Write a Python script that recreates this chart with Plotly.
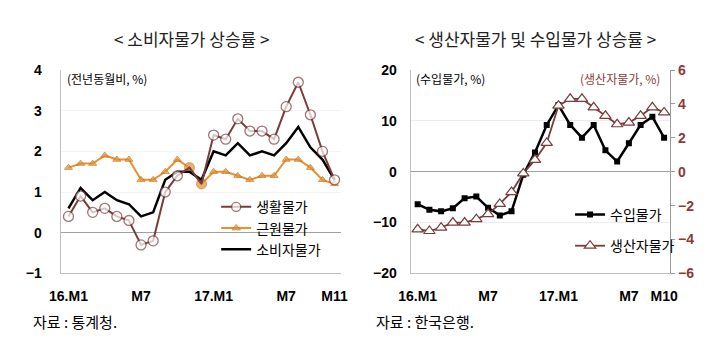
import plotly.graph_objects as go

# ---- data: left chart (16.M1 ~ 17.M11) ----
months_left = list(range(23))
living = [0.4, 0.9, 0.5, 0.6, 0.4, 0.3, -0.3, -0.2, 1.0, 1.4, 1.6, 1.2,
          2.4, 2.3, 2.8, 2.5, 2.5, 2.3, 3.1, 3.7, 2.9, 2.0, 1.3]
core = [1.6, 1.7, 1.7, 1.9, 1.8, 1.8, 1.3, 1.3, 1.5, 1.8, 1.6, 1.2,
        1.5, 1.5, 1.4, 1.3, 1.4, 1.4, 1.8, 1.8, 1.6, 1.3, 1.2]
cpi = [0.6, 1.1, 0.8, 1.0, 0.8, 0.7, 0.4, 0.5, 1.3, 1.5, 1.5, 1.3,
       2.0, 1.9, 2.2, 1.9, 2.0, 1.9, 2.2, 2.6, 2.1, 1.8, 1.3]
left_tickvals = [0, 6, 12, 18, 22]
left_ticktext = ["16.M1", "M7", "17.M1", "M7", "M11"]

# ---- data: right chart (16.M1 ~ 17.M10) ----
months_right = list(range(22))
import_p = [-6.4, -7.5, -7.8, -7.2, -5.2, -4.9, -7.1, -8.6, -7.8, -0.6, 3.8, 9.2,
            13.1, 9.2, 6.7, 9.2, 4.2, 2.0, 5.6, 9.2, 10.8, 6.7]
ppi = [-3.4, -3.5, -3.3, -3.0, -3.0, -2.8, -2.5, -1.9, -1.2, -0.1, 0.7, 1.7,
       3.9, 4.3, 4.3, 3.8, 3.3, 2.8, 2.9, 3.3, 3.8, 3.5]
right_tickvals = [0, 6, 12, 18, 21]
right_ticktext = ["16.M1", "M7", "17.M1", "M7", "M10"]

MAROON = "#7a3b3b"
ORANGE = "#e8912d"
KFONT = "Noto Sans CJK KR"
NFONT = "Liberation Sans"

fig = go.Figure()

# left traces
fig.add_trace(go.Scatter(
    x=months_left, y=core, name="근원물가", mode="lines+markers",
    line=dict(color=ORANGE, width=2),
    marker=dict(symbol=["triangle-up"] * 10 + ["circle", "circle"] + ["triangle-up"] * 11,
                size=[7] * 10 + [10, 10] + [7] * 11, color=ORANGE,
                line=dict(color="#c07020", width=1)),
    xaxis="x", yaxis="y", legend="legend", legendrank=2))
fig.add_trace(go.Scatter(
    x=months_left, y=cpi, name="소비자물가", mode="lines",
    line=dict(color="black", width=2.5),
    xaxis="x", yaxis="y", legend="legend", legendrank=3))
fig.add_trace(go.Scatter(
    x=months_left, y=living, name="생활물가", mode="lines+markers",
    line=dict(color=MAROON, width=2),
    marker=dict(symbol="circle", size=[10] * 10 + [0, 0] + [10] * 11, color="white",
                line=dict(color=MAROON, width=1.3)),
    xaxis="x", yaxis="y", legend="legend", legendrank=1))

# right traces
fig.add_trace(go.Scatter(
    x=months_right, y=import_p, name="수입물가", mode="lines+markers",
    line=dict(color="black", width=2.5),
    marker=dict(symbol="square", size=6, color="black"),
    xaxis="x2", yaxis="y2", legend="legend2", legendgroup="a"))
fig.add_trace(go.Scatter(
    x=months_right, y=ppi, name="생산자물가", mode="lines+markers",
    line=dict(color=MAROON, width=1.8),
    marker=dict(symbol="triangle-up", size=10, color="white",
                line=dict(color=MAROON, width=1.2)),
    xaxis="x2", yaxis="y3", legend="legend2", legendgroup="b"))

W, H = 720, 352
def px(v):
    return v / W
def py(v):
    return (H - v) / H

tickfont = dict(family=NFONT, size=14, color="black", weight="bold")

fig.update_layout(
    width=W, height=H,
    margin=dict(l=0, r=0, t=0, b=0),
    paper_bgcolor="white", plot_bgcolor="white",
    font=dict(family=KFONT, color="black"),
    xaxis=dict(domain=[px(50), px(338)], range=[-0.65, 22.5],
               tickvals=left_tickvals, ticktext=left_ticktext, tickfont=tickfont,
               showgrid=False, zeroline=False, showline=True,
               linecolor="#bfbfbf", linewidth=1, ticks="", ticklabelstandoff=10,
               anchor="y"),
    yaxis=dict(domain=[py(278), py(65)], range=[-1, 4], dtick=1,
               tickfont=tickfont, showgrid=True, gridcolor="#f4f4f4",
               zeroline=True, zerolinecolor="#a0a0a0", zerolinewidth=1,
               showline=True, linecolor="#bfbfbf", linewidth=1, ticks="",
               ticklabelstandoff=15, anchor="x"),
    xaxis2=dict(domain=[px(410), px(677)], range=[-0.6, 21.52],
                tickvals=right_tickvals, ticktext=right_ticktext, tickfont=tickfont,
                showgrid=False, zeroline=False, showline=True,
                linecolor="#bfbfbf", linewidth=1, ticks="", ticklabelstandoff=10,
                anchor="y2"),
    yaxis2=dict(domain=[py(278), py(65)], range=[-20, 20], dtick=10,
                tickfont=tickfont, showgrid=True, gridcolor="#ececec",
                zeroline=True, zerolinecolor="#a0a0a0", zerolinewidth=1,
                showline=True, linecolor="#bfbfbf", linewidth=1, ticks="",
                ticklabelstandoff=10, anchor="x2"),
    yaxis3=dict(range=[-6, 6], dtick=2, overlaying="y2", side="right", anchor="x2",
                tickfont=dict(family=NFONT, size=14, color="#8b3a3a", weight="bold"),
                showgrid=False, zeroline=False, showline=True,
                linecolor="#9a9a9a", linewidth=1, ticks="outside", ticklen=4,
                tickcolor="#9a9a9a"),
    legend=dict(x=px(210), y=py(192), xanchor="left", yanchor="top",
                bgcolor="rgba(0,0,0,0)", font=dict(family=KFONT, size=14, color="black"),
                itemwidth=30, tracegroupgap=0, traceorder="normal"),
    legend2=dict(x=px(574), y=py(200), xanchor="left", yanchor="top",
                 bgcolor="rgba(0,0,0,0)", font=dict(family=KFONT, size=14, color="black"),
                 itemwidth=30, tracegroupgap=10, traceorder="grouped"),
    showlegend=True,
)

annotations = [
    dict(text="< 소비자물가 상승률 >", x=px(185), y=py(32), font=dict(size=17, family=KFONT, color="#222")),
    dict(text="< 생산자물가 및 수입물가 상승률 >", x=px(538), y=py(32), font=dict(size=17, family=KFONT, color="#222")),
    dict(text="(전년동월비, %)", x=px(54), y=py(74), xanchor="left", font=dict(size=12, family=KFONT, color="black")),
    dict(text="(수입물가, %)", x=px(413), y=py(74), xanchor="left", font=dict(size=12, family=KFONT, color="black")),
    dict(text="(생산자물가, %)", x=px(669), y=py(74), xanchor="right", font=dict(size=12, family=KFONT, color="#8b3a3a")),
    dict(text="자료 : 통계청.", x=px(20), y=py(328), xanchor="left", font=dict(size=15, family=KFONT, color="black")),
    dict(text="자료 : 한국은행.", x=px(372), y=py(328), xanchor="left", font=dict(size=15, family=KFONT, color="black")),
]
for a in annotations:
    a.update(xref="paper", yref="paper", showarrow=False, yanchor="middle")
    a.setdefault("xanchor", "center")
fig.update_layout(annotations=annotations)

fig.write_html("out.html")
